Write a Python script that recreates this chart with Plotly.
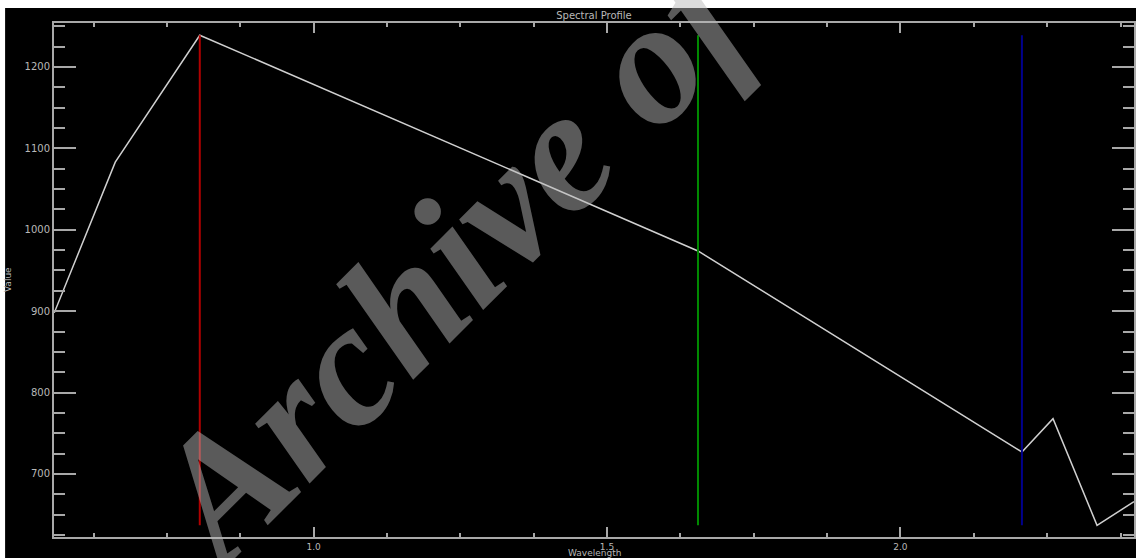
import plotly.graph_objects as go

# Spectral profile samples
wavelength = [0.558, 0.662, 0.806, 1.655, 2.207, 2.260, 2.335, 2.398]
value = [898, 1083, 1239, 974, 727, 768, 637, 666]

# Band markers (R, G, B)
band_wavelengths = [0.806, 1.655, 2.207]
band_colors = ["#b00000", "#008a00", "#00008c"]

x_range = [0.5576, 2.398]
y_range = [622.6, 1254]
x_ticks = [1.0, 1.5, 2.0]
x_ticktext = ["1.0", "1.5", "2.0"]
y_ticks = [700, 800, 900, 1000, 1100, 1200]
y_ticktext = ["700", "800", "900", "1000", "1100", "1200"]

axis_color = "#a8a8a8"
text_color = "#b8b8b8"

W, H = 1136, 558
ML, MR, MT, MB = 54, 0, 23, 21
PW, PH = W - ML - MR, H - MT - MB


def px_x(p):
    return (p - ML) / PW


def px_y(q):
    return (H - MB - q) / PH


fig = go.Figure()

fig.add_trace(go.Scatter(
    x=wavelength, y=value, mode="lines",
    line=dict(color="#d0d0d0", width=1.5),
    showlegend=False, hoverinfo="x+y",
))

vmin, vmax = min(value), max(value)
for wl, col in zip(band_wavelengths, band_colors):
    fig.add_trace(go.Scatter(
        x=[wl, wl], y=[vmin, vmax], mode="lines",
        line=dict(color=col, width=2),
        showlegend=False, hoverinfo="x",
    ))

fig.update_layout(
    width=W, height=H,
    margin=dict(l=ML, r=MR, t=MT, b=MB),
    paper_bgcolor="black",
    plot_bgcolor="black",
    font=dict(family="DejaVu Sans", size=10, color=text_color),
    title=dict(text="Spectral Profile", x=0.5, xref="paper", y=1 - 15 / H,
               yanchor="middle", xanchor="center",
               font=dict(size=10, color=text_color)),
    xaxis=dict(
        range=x_range, tickmode="array", tickvals=x_ticks, ticktext=x_ticktext,
        ticks="inside", ticklen=10, tickwidth=1.5, tickcolor=axis_color,
        minor=dict(dtick=0.125, tick0=0, ticks="inside", ticklen=4,
                   tickwidth=1.5, tickcolor=axis_color),
        showline=True, linecolor=axis_color, linewidth=2, mirror="ticks",
        showgrid=False, zeroline=False,
        tickfont=dict(size=9, color=text_color),
    ),
    yaxis=dict(
        range=y_range, tickmode="array", tickvals=y_ticks, ticktext=y_ticktext,
        ticks="inside", ticklen=22, tickwidth=1.5, tickcolor=axis_color,
        minor=dict(dtick=25, tick0=0, ticks="inside", ticklen=11,
                   tickwidth=1.5, tickcolor=axis_color),
        showline=True, linecolor=axis_color, linewidth=2, mirror="ticks",
        showgrid=False, zeroline=False,
        tickfont=dict(size=10, color=text_color),
    ),
    shapes=[
        # white frame strips along the top and left edges
        dict(type="rect", xref="paper", yref="paper", layer="below",
             x0=-0.06, x1=1.02, y0=px_y(8), y1=1.06,
             fillcolor="white", line=dict(width=0)),
        dict(type="rect", xref="paper", yref="paper", layer="below",
             x0=-0.06, x1=px_x(5), y0=-0.06, y1=1.06,
             fillcolor="white", line=dict(width=0)),
    ],
    annotations=[
        # axis titles
        dict(text="Wavelength", xref="paper", yref="paper",
             x=px_x(596), y=px_y(553), xanchor="center", yanchor="middle",
             showarrow=False, font=dict(size=9, color=text_color)),
        dict(text="Value", xref="paper", yref="paper",
             x=px_x(8), y=px_y(280), xanchor="center", yanchor="middle",
             showarrow=False, textangle=-90, font=dict(size=9, color=text_color)),
        # watermark
        dict(text="Archive of", xref="paper", yref="paper",
             x=px_x(452), y=px_y(257),
             xanchor="center", yanchor="middle", showarrow=False,
             textangle=-45,
             font=dict(family="Liberation Serif", size=176, weight="bold",
                       style="italic", color="rgba(184,184,184,0.49)")),
    ],
)

fig.write_html("out.html")
